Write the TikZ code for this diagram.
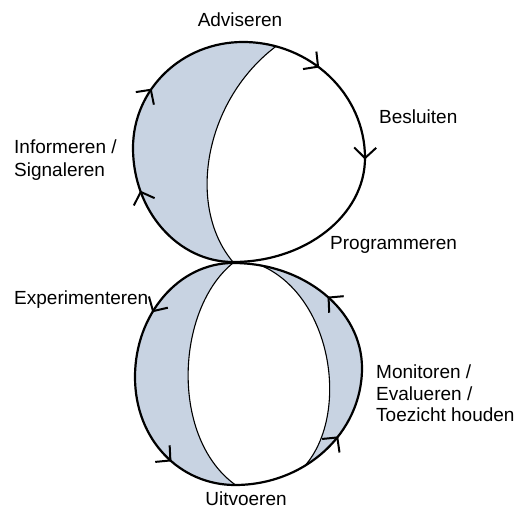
\documentclass[tikz,border=0pt]{standalone}
\usepackage{fontspec}
\setmainfont{Liberation Sans}
\usetikzlibrary{arrows.meta,decorations.markings}
\definecolor{crescent}{RGB}{200,211,226}
\begin{document}
\begin{tikzpicture}[x=1pt,y=-1pt,
  loopline/.style={line width=2.2pt, line join=round, draw=black},
  innerline/.style={line width=1.1pt, draw=black},
  lbl/.style={inner sep=0pt, font=\fontsize{19}{23}\selectfont},
  barb/.style={decoration={markings,#1}, postaction={decorate}},
  chev/.tip={Straight Barb[length=10.5pt,width=22pt,line width=2pt]}]
\useasboundingbox (0,0) rectangle (515,508);

% ---------- upper loop: shaded crescent ----------
\begin{scope}
  \clip (280,0) -- (282,42) .. controls (205,95) and (185,205) .. (233,262)
        -- (233,300) -- (100,300) -- (100,0) -- cycle;
  \fill[crescent] (243,42) .. controls (310,42) and (365,94) .. (365,158)
        .. controls (365,215) and (306,262) .. (233,262)
        .. controls (178,262) and (133,211) .. (133,148)
        .. controls (133,89) and (182,42) .. (243,42) -- cycle;
\end{scope}
\begin{scope}
  \clip (243,42) .. controls (310,42) and (365,94) .. (365,158)
        .. controls (365,215) and (306,262) .. (233,262)
        .. controls (178,262) and (133,211) .. (133,148)
        .. controls (133,89) and (182,42) .. (243,42) -- cycle;
  \draw[innerline] (282,42) .. controls (205,95) and (185,205) .. (233,262);
\end{scope}

% ---------- lower loop: shaded crescents ----------
\begin{scope}
  \clip (233,263) .. controls (175,310) and (170,440) .. (237,486)
        -- (237,530) -- (100,530) -- (100,240) -- (233,240) -- cycle;
  \fill[crescent] (233,263) .. controls (179,263) and (135,314) .. (135,377)
        .. controls (135,440) and (180,485) .. (235,485)
        .. controls (305,485) and (362,433) .. (362,368)
        .. controls (362,310) and (304,263) .. (233,263) -- cycle;
\end{scope}
\begin{scope}
  \clip (252,262) .. controls (340,290) and (355,440) .. (288,480)
        -- (288,530) -- (430,530) -- (430,240) -- (252,240) -- cycle;
  \fill[crescent] (233,263) .. controls (179,263) and (135,314) .. (135,377)
        .. controls (135,440) and (180,485) .. (235,485)
        .. controls (305,485) and (362,433) .. (362,368)
        .. controls (362,310) and (304,263) .. (233,263) -- cycle;
\end{scope}
\begin{scope}
  \clip (233,263) .. controls (179,263) and (135,314) .. (135,377)
        .. controls (135,440) and (180,485) .. (235,485)
        .. controls (305,485) and (362,433) .. (362,368)
        .. controls (362,310) and (304,263) .. (233,263) -- cycle;
  \draw[innerline] (233,263) .. controls (175,310) and (170,440) .. (237,486);
  \draw[innerline] (252,262) .. controls (340,290) and (355,440) .. (288,480);
\end{scope}

% ---------- outer loops with arrows ----------
\draw[loopline, barb={
    mark=at position 0.115 with {\arrow{chev}},
    mark=at position 0.265 with {\arrow{chev}},
    mark=at position 0.70 with {\arrow{chev}},
    mark=at position 0.85 with {\arrow{chev}}}]
  (243,42) .. controls (310,42) and (365,94) .. (365,158)
  .. controls (365,215) and (306,262) .. (233,262)
  .. controls (178,262) and (133,211) .. (133,148)
  .. controls (133,89) and (182,42) .. (243,42) -- cycle;

\draw[loopline, barb={
    mark=at position 0.14 with {\arrow{chev}},
    mark=at position 0.37 with {\arrow{chev}},
    mark=at position 0.635 with {\arrow{chev}},
    mark=at position 0.855 with {\arrow{chev}}}]
  (233,263) .. controls (179,263) and (135,314) .. (135,377)
  .. controls (135,440) and (180,485) .. (235,485)
  .. controls (305,485) and (362,433) .. (362,368)
  .. controls (362,310) and (304,263) .. (233,263) -- cycle;

% ---------- labels ----------
\node[lbl, anchor=base] (advis) at (240,27) {Adviseren};
\node[lbl, anchor=base west] (besl) at (379,124) {Besluiten};
\node[lbl, anchor=base west] (info1) at (14,154) {Informeren /};
\node[lbl, anchor=base west] (info2) at (14,177) {Signaleren};
\node[lbl, anchor=base west] (prog) at (330,250) {Programmeren};
\node[lbl, anchor=base west] (expe) at (14,305) {Experimenteren};
\node[lbl, anchor=base west] (mon1) at (376,378) {Monitoren /};
\node[lbl, anchor=base west] (mon2) at (376,400) {Evalueren /};
\node[lbl, anchor=base west] (mon3) at (376,421) {Toezicht houden};
\node[lbl, anchor=base] (uitv) at (246,505) {Uitvoeren};
\end{tikzpicture}
\end{document}
